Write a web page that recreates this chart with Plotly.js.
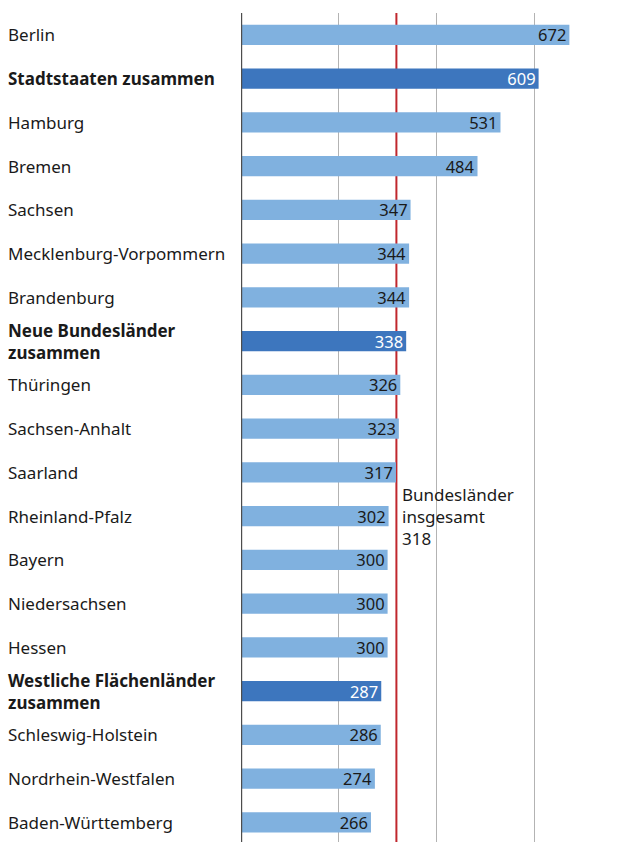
<!DOCTYPE html>
<html>
<head>
<meta charset="utf-8">
<script src="https://cdn.plot.ly/plotly-3.0.1.min.js"></script>
<style>html,body{margin:0;padding:0;background:#fff;}#chart{width:629px;height:842px;}</style>
</head>
<body>
<div id="chart"></div>
<script>
const categories = ["Berlin","Stadtstaaten zusammen","Hamburg","Bremen","Sachsen","Mecklenburg-Vorpommern","Brandenburg","Neue Bundesländer<br>zusammen","Thüringen","Sachsen-Anhalt","Saarland","Rheinland-Pfalz","Bayern","Niedersachsen","Hessen","Westliche Flächenländer<br>zusammen","Schleswig-Holstein","Nordrhein-Westfalen","Baden-Württemberg"];
const values = [672,609,531,484,347,344,344,338,326,323,317,302,300,300,300,287,286,274,266];
const isTotal = [false,true,false,false,false,false,false,true,false,false,false,false,false,false,false,true,false,false,false];
const referenceValue = 318;
const referenceLabel = "Bundesländer<br>insgesamt<br>318";

const light = "#80B1DF", dark = "#3D76BE";
const font = "Noto Sans, sans-serif";
const idx = categories.map((c,i)=>i);

const trace = {
  type: "bar", orientation: "h",
  x: values, y: idx,
  marker: {color: isTotal.map(t => t ? dark : light)},
  text: values.map(String),
  textposition: "inside", insidetextanchor: "end",
  textfont: {family: font, size: 16.5, color: isTotal.map(t => t ? "#ffffff" : "#1a1a1a")},
  constraintext: "none",
  hoverinfo: "none", width: 0.46
};

const plotW = 629 - 241;
const annotations = categories.map((c,i)=>({
  xref: "paper", yref: "y", x: (6-241)/plotW, y: i, xanchor: "left", yanchor: "middle",
  text: isTotal[i] ? "<b>"+c+"</b>" : c, showarrow: false, align: "left",
  font: {family: font, size: 17, color: "#1a1a1a"}
}));
annotations.push({
  xref: "x", yref: "y", x: referenceValue, y: 11, xanchor: "left", yanchor: "middle", xshift: 4,
  text: referenceLabel, showarrow: false, align: "left",
  font: {family: font, size: 17, color: "#1a1a1a"}
});

const layout = {
  width: 629, height: 842,
  margin: {l: 241, r: 0, t: 13, b: 0},
  paper_bgcolor: "#fff", plot_bgcolor: "#fff",
  showlegend: false,
  bargap: 0.54,
  xaxis: {range: [0, 794], tickvals: [200,400,600], showticklabels: false, showgrid: true,
          gridcolor: "#b3b3b3", gridwidth: 1.3, zeroline: false, showline: false, ticks: ""},
  yaxis: {range: [18.45, -0.5], showticklabels: false, showgrid: false, zeroline: false, ticks: ""},
  shapes: [
    {type: "line", xref: "x", yref: "paper", x0: referenceValue, x1: referenceValue, y0: 0, y1: 1,
     line: {color: "#C0272D", width: 2}, layer: "below"},
    {type: "line", xref: "x", yref: "paper", x0: 0, x1: 0, y0: 0, y1: 1,
     line: {color: "#4d4d4d", width: 2.4}, layer: "above"}
  ],
  annotations: annotations
};

Plotly.newPlot("chart", [trace], layout, {displayModeBar: false, staticPlot: true});
</script>
</body>
</html>
